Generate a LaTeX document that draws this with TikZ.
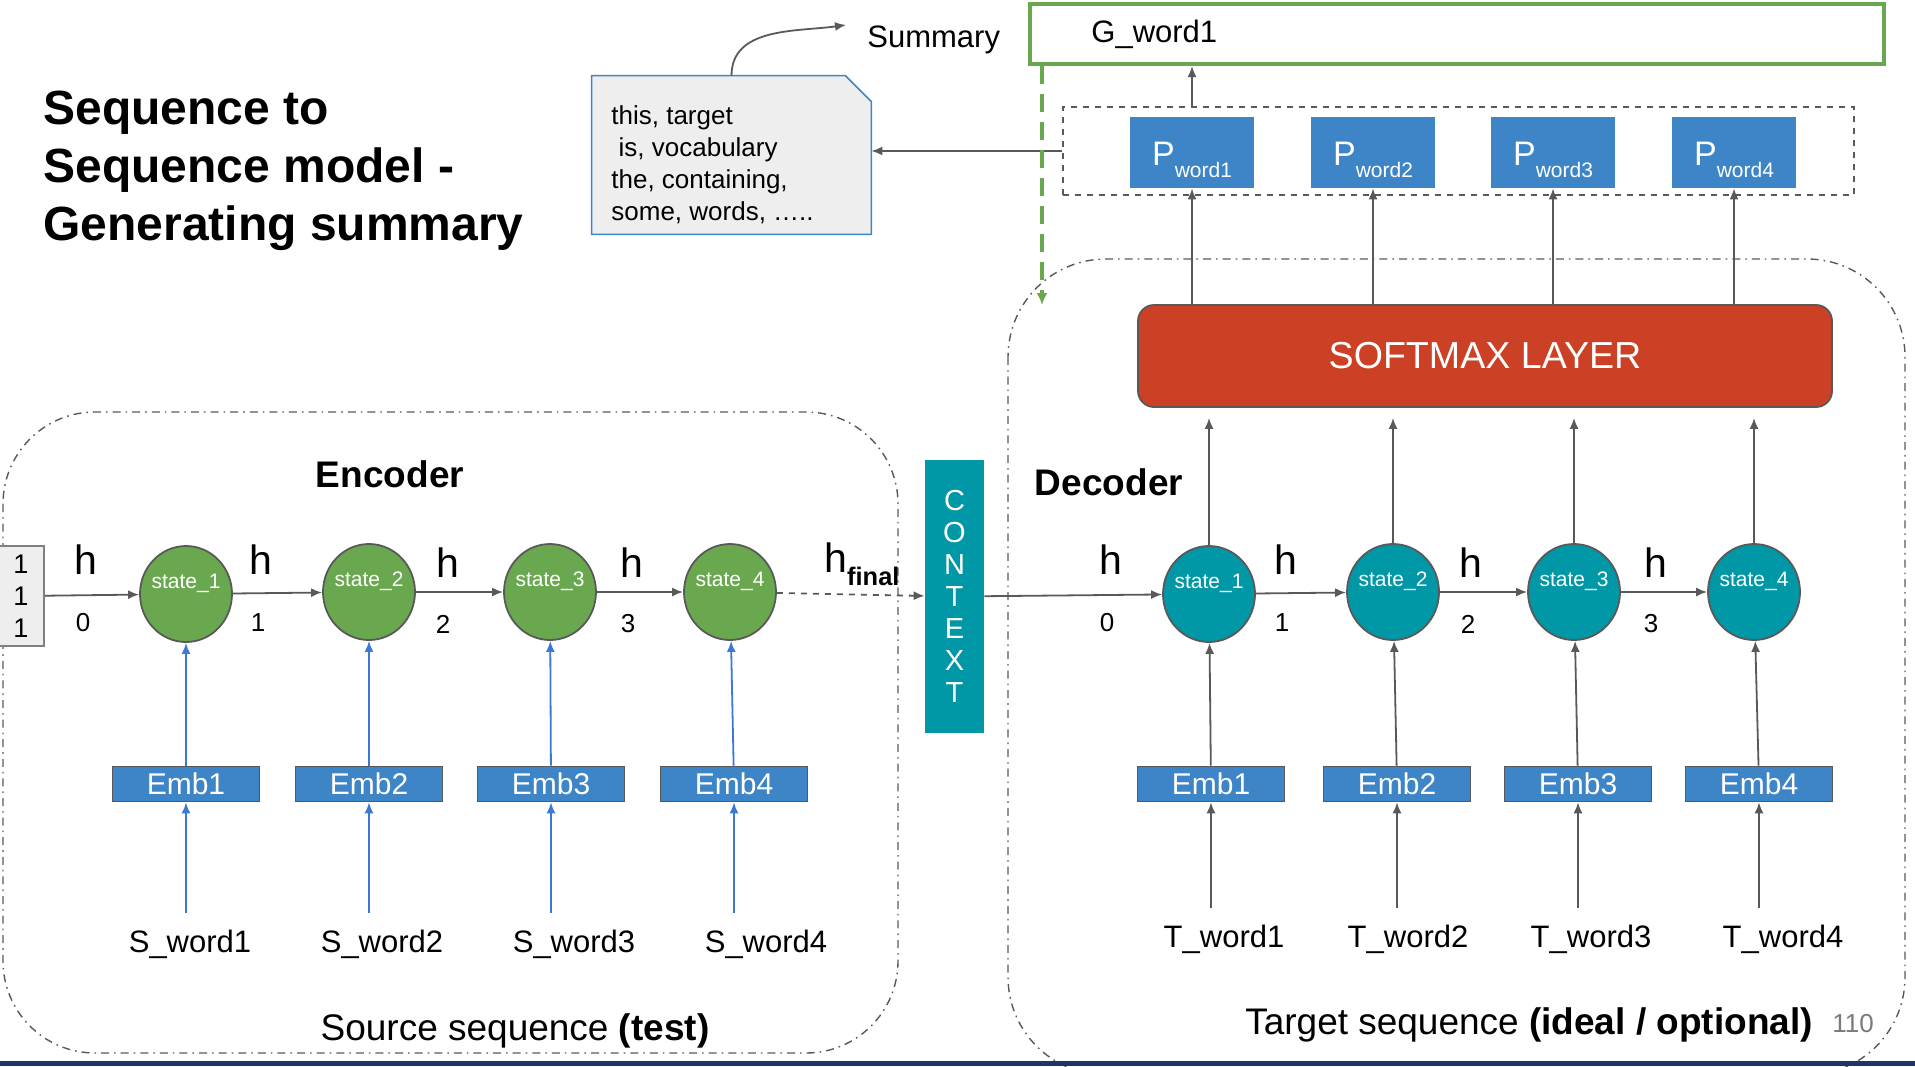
\documentclass[tikz,border=0pt]{standalone}
\usepackage{fontspec}
\setmainfont{Liberation Sans}
\usetikzlibrary{arrows.meta,calc,positioning,shapes.geometric}
\definecolor{edgegray}{HTML}{595959}
\definecolor{encgreen}{HTML}{6AA84F}
\definecolor{decteal}{HTML}{0097A7}
\definecolor{embblue}{HTML}{3D85C6}
\definecolor{linkblue}{HTML}{3C78D8}
\definecolor{softred}{HTML}{CC4125}
\definecolor{notegray}{HTML}{EEEEEE}
\definecolor{footnavy}{HTML}{1F3569}
\newcommand{\fsz}[2]{\fontsize{#1}{#2}\selectfont}
\tikzset{>=Latex,line width=.9pt,
  every node/.style={font=\fsz{15.5}{18}},
  flow/.style={-{Latex[length=5.5pt,width=4.5pt]},draw=edgegray,line width=.9pt},
  blueflow/.style={flow,draw=linkblue},
  greenflow/.style={-{Latex[length=6pt,width=5.5pt]},draw=encgreen,line width=1.8pt,dash pattern=on 9pt off 5pt},
  region/.style={draw=edgegray,line width=.7pt,dash pattern=on 4pt off 2.5pt on .8pt off 2.5pt,rounded corners=46pt},
  encstate/.style={ellipse,draw=edgegray,line width=.9pt,fill=encgreen,minimum width=46pt,minimum height=48pt,inner sep=0pt},
  decstate/.style={encstate,fill=decteal},
  statetxt/.style={text=white,font=\fsz{10.5}{12},yshift=5.5pt,inner sep=0pt},
  embbox/.style={draw=edgegray,line width=.8pt,fill=embblue,text=white,font=\fsz{15}{16},minimum width=73.5pt,minimum height=17.5pt,inner sep=0pt},
  wordlbl/.style={font=\fsz{15.5}{18},inner sep=3pt},
  hlbl/.style={font=\fsz{20.5}{22},inner sep=0pt},
  idxlbl/.style={font=\fsz{13}{14},inner sep=0pt},
  heading/.style={font=\fsz{18.5}{20}\bfseries},
  seqcaption/.style={font=\fsz{18.5}{20}},
  notebox/.style={minimum width=139.5pt,minimum height=79pt,inner sep=0pt},
  noteedge/.style={draw=embblue,fill=notegray,line width=.8pt},
  notetxt/.style={align=left,font=\fsz{13}{16},inner sep=0pt},
  pbox/.style={fill=embblue,text=white,font=\fsz{17}{18},minimum width=62pt,minimum height=35.5pt,inner sep=0pt,text height=14pt,text depth=.8pt},
  pgroup/.style={draw=edgegray,dashed,line width=.8pt,minimum width=395.5pt,minimum height=44pt},
  gwbox/.style={draw=encgreen,line width=2pt,minimum width=427pt,minimum height=30pt},
  softmax/.style={rounded corners=8pt,draw=edgegray,line width=.9pt,fill=softred,text=white,font=\fsz{18.8}{20},minimum width=347pt,minimum height=51pt},
  ctxbox/.style={fill=decteal,text=white,font=\fsz{14.5}{16},align=center,minimum width=29.5pt,minimum height=136.5pt,inner sep=0pt},
  inbox/.style={draw=gray,fill=notegray,font=\fsz{13.5}{16},align=center,minimum width=23pt,minimum height=50pt,line width=.8pt}}

\begin{document}
\begin{tikzpicture}[x=.5pt,y=-.5pt]
\path[use as bounding box] (0,0) rectangle (1915,1066);
\draw[region] (3,412) rectangle (898,1053);\draw[region,rounded corners=49pt] (1008,259) rectangle (1905,1075);
\fill[footnavy] (0,1061) rectangle (1915,1066);
\node[anchor=north west,align=left,font=\fsz{24}{29}\bfseries,inner sep=0pt] (title) at (43,91) {Sequence to\\Sequence model -\\Generating summary};

% summary note and generated word
\node[notebox] (note) at (731.5,155) {};
\filldraw[noteedge] (note.south west) -- (note.north west) -- ([xshift=-13pt]note.north east) -- ([yshift=-13pt]note.north east) -- (note.south east) -- cycle;
\node[notetxt,anchor=north west] (notetext) at (611,105) {this, target\\\hspace*{.28em}is, vocabulary\\the, containing,\\some, words, …..};
\node[anchor=base west,inner sep=0pt] (sumtxt) at (867,47) {Summary};
\draw[flow] (note.north) to[out=90,in=188] ([xshift=-10.5pt]sumtxt.north west);
\node[gwbox] (gw) at (1457,34) {};\node[anchor=west,inner sep=0pt] (gwtxt) at (1091,34) {G\_word1};
\node[pgroup] (pg) at (1458.5,151) {};
\node[pbox] (p1) at (1192,152.5) {P\raisebox{-6pt}{\fsz{10.5}{11}word1}};\node[pbox] (p2) at (1373,152.5) {P\raisebox{-6pt}{\fsz{10.5}{11}word2}};
\node[pbox] (p3) at (1553,152.5) {P\raisebox{-6pt}{\fsz{10.5}{11}word3}};\node[pbox] (p4) at (1734,152.5) {P\raisebox{-6pt}{\fsz{10.5}{11}word4}};
\draw[flow] (p1.north |- pg.north) -- (p1.north |- gw.south);\draw[flow] (pg.west) -- (pg.west -| note.east);
\coordinate (decin) at (1042,305);\draw[greenflow] (gw.south -| decin) -- (decin);
\node[softmax] (sm) at (1485,356) {SOFTMAX LAYER};

% encoder
\node[heading] (enc) at (390,474) {Encoder};
\node[inbox] (inp) at (21,596) {1\\1\\1};
\node[encstate,label={[statetxt]center:state\_1}] (es1) at (186,594) {};\node[encstate,label={[statetxt]center:state\_2}] (es2) at (369,592) {};
\node[encstate,label={[statetxt]center:state\_3}] (es3) at (550,592) {};\node[encstate,label={[statetxt]center:state\_4}] (es4) at (730,592) {};
\node[hlbl] (eh0) at (86,560) {h};\node[hlbl] (eh1) at (261,560) {h};\node[hlbl] (eh2) at (448,563) {h};\node[hlbl] (eh3) at (632,563) {h};
\node[idxlbl] (ei0) at (83,623) {0};\node[idxlbl] (ei1) at (258,623) {1};\node[idxlbl] (ei2) at (443,624) {2};\node[idxlbl] (ei3) at (628,624) {3};
\node[hlbl,anchor=base west] (ehf) at (824,572) {h\raisebox{-6.7pt}{\fsz{12.7}{14}\bfseries final}};
\node[embbox] (ee1) at (186,784) {Emb1};\node[embbox] (ee2) at (369,784) {Emb2};\node[embbox] (ee3) at (551,784) {Emb3};\node[embbox] (ee4) at (734,784) {Emb4};
\node[wordlbl] (sw1) at (190,944) {S\_word1};\node[wordlbl] (sw2) at (382,944) {S\_word2};\node[wordlbl] (sw3) at (574,944) {S\_word3};\node[wordlbl] (sw4) at (766,944) {S\_word4};
\draw[flow] (inp) -- (es1);\draw[flow] (es1) -- (es2);\draw[flow] (es2) -- (es3);\draw[flow] (es3) -- (es4);
\draw[blueflow] (ee1) -- (es1);\draw[blueflow] (ee2) -- (es2);\draw[blueflow] (ee3) -- (es3);\draw[blueflow] (ee4) -- (es4);
\draw[blueflow,shorten <=5pt] (sw1.north -| ee1) -- (ee1);\draw[blueflow,shorten <=5pt] (sw2.north -| ee2) -- (ee2);\draw[blueflow,shorten <=5pt] (sw3.north -| ee3) -- (ee3);\draw[blueflow,shorten <=5pt] (sw4.north -| ee4) -- (ee4);
\node[seqcaption] (srcseq) at (515,1031) {Source sequence \textbf{(test)}};

% context
\node[ctxbox] (ctx) at (954.5,596.5) {C\\O\\N\\T\\E\\X\\T};
\draw[flow,dashed] (es4) -- (ctx);

% decoder
\node[heading] (dec) at (1109,482) {Decoder};
\node[decstate,label={[statetxt]center:state\_1}] (ds1) at (1209,594) {};\node[decstate,label={[statetxt]center:state\_2}] (ds2) at (1393,592) {};
\node[decstate,label={[statetxt]center:state\_3}] (ds3) at (1574,592) {};\node[decstate,label={[statetxt]center:state\_4}] (ds4) at (1754,592) {};
\node[hlbl] (dh0) at (1111,560) {h};\node[hlbl] (dh1) at (1286,560) {h};\node[hlbl] (dh2) at (1471,563) {h};\node[hlbl] (dh3) at (1656,563) {h};
\node[idxlbl] (di0) at (1107,623) {0};\node[idxlbl] (di1) at (1282,623) {1};\node[idxlbl] (di2) at (1468,624) {2};\node[idxlbl] (di3) at (1651,624) {3};
\node[embbox] (de1) at (1211,784) {Emb1};\node[embbox] (de2) at (1397,784) {Emb2};\node[embbox] (de3) at (1578,784) {Emb3};\node[embbox] (de4) at (1759,784) {Emb4};
\node[wordlbl] (tw1) at (1224,939) {T\_word1};\node[wordlbl] (tw2) at (1408,939) {T\_word2};\node[wordlbl] (tw3) at (1591,939) {T\_word3};\node[wordlbl] (tw4) at (1783,939) {T\_word4};
\draw[flow] (ctx) -- (ds1);\draw[flow] (ds1) -- (ds2);\draw[flow] (ds2) -- (ds3);\draw[flow] (ds3) -- (ds4);
\draw[flow] (de1) -- (ds1);\draw[flow] (de2) -- (ds2);\draw[flow] (de3) -- (ds3);\draw[flow] (de4) -- (ds4);
\draw[flow,shorten <=5pt] (tw1.north -| de1) -- (de1);\draw[flow,shorten <=5pt] (tw2.north -| de2) -- (de2);\draw[flow,shorten <=5pt] (tw3.north -| de3) -- (de3);\draw[flow,shorten <=5pt] (tw4.north -| de4) -- (de4);
\draw[flow,shorten >=5pt] (ds1) -- (ds1 |- sm.south);\draw[flow,shorten >=5pt] (ds2) -- (ds2 |- sm.south);\draw[flow,shorten >=5pt] (ds3) -- (ds3 |- sm.south);\draw[flow,shorten >=5pt] (ds4) -- (ds4 |- sm.south);
\draw[flow] (p1 |- sm.north) -- (p1);\draw[flow] (p2 |- sm.north) -- (p2);\draw[flow] (p3 |- sm.north) -- (p3);\draw[flow] (p4 |- sm.north) -- (p4);
\node[seqcaption] (tgtseq) at (1529,1025) {Target sequence \textbf{(ideal / optional)}};
\node[font=\fsz{13}{14},text=edgegray!80] (pgno) at (1853,1024) {110};
\end{tikzpicture}
\end{document}
